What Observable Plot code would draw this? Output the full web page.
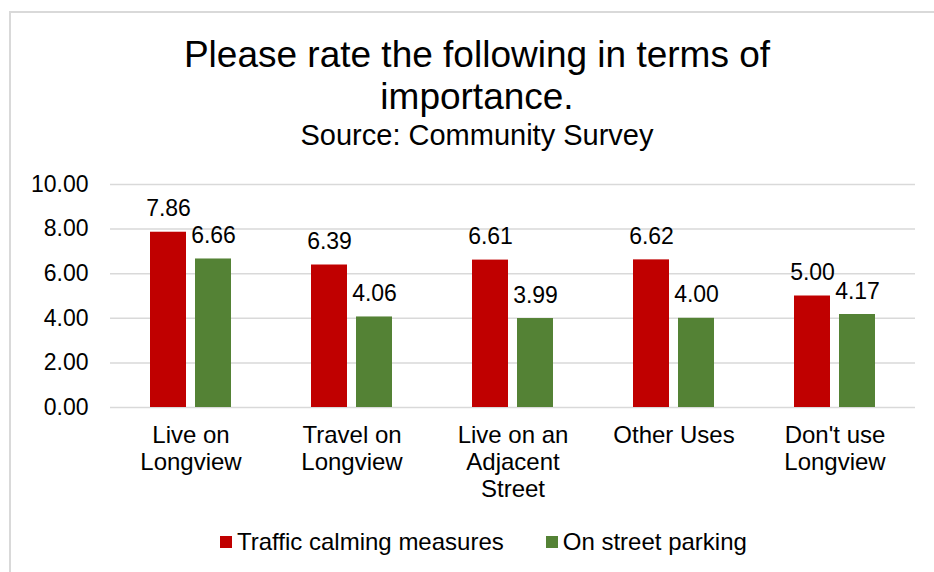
<!DOCTYPE html>
<html>
<head>
<meta charset="utf-8">
<script src="https://cdn.jsdelivr.net/npm/d3@7"></script>
<script src="https://cdn.jsdelivr.net/npm/@observablehq/plot@0.6"></script>
<style>
  body { margin: 0; background: #fff; font-family: "Liberation Sans", Arial, sans-serif; color: #000; }
  #wrap { position: relative; width: 934px; height: 572px; overflow: hidden; background: #fff; }
  #frame { position: absolute; left: 9px; top: 11px; width: 940px; height: 600px; border-top: 2px solid #d9d9d9; border-left: 2px solid #d9d9d9; box-sizing: border-box; }
  #title { position: absolute; left: 10px; width: 934px; top: 34px; text-align: center; font-size: 37px; line-height: 42px; }
  #subtitle { position: absolute; left: 10px; width: 934px; top: 119px; text-align: center; font-size: 29px; line-height: 32px; }
  #chart { position: absolute; left: 0; top: 160px; }
  #legend { position: absolute; top: 528px; left: 220px; font-size: 24px; line-height: 28px; display: flex; align-items: center; white-space: nowrap; }
  .sw { display: inline-block; width: 12px; height: 12px; margin-right: 5px; }
  .item { display: flex; align-items: center; }
</style>
</head>
<body>
<div id="wrap">
  <div id="frame"></div>
  <div id="title"></div>
  <div id="subtitle"></div>
  <div id="chart"></div>
  <div id="legend"></div>
</div>
<script>
const titleLines = ["Please rate the following in terms of", "importance."];
const subtitle = "Source: Community Survey";
const categories = ["Live on\nLongview", "Travel on\nLongview", "Live on an\nAdjacent\nStreet", "Other Uses", "Don't use\nLongview"];
const seriesNames = ["Traffic calming measures", "On street parking"];
const seriesColors = ["#C00000", "#548235"];
const trafficCalming = [7.86, 6.39, 6.61, 6.62, 5.00];
const onStreetParking = [6.66, 4.06, 3.99, 4.00, 4.17];
const yTicks = [0, 2, 4, 6, 8, 10];

document.getElementById("title").innerHTML = titleLines.join("<br>");
document.getElementById("subtitle").textContent = subtitle;

const rows = [];
categories.forEach((c, i) => {
  rows.push({cat: c, series: seriesNames[0], value: trafficCalming[i]});
  rows.push({cat: c, series: seriesNames[1], value: onStreetParking[i]});
});

const fmt = d3.format(".2f");

const chart = Plot.plot({
  width: 934,
  height: 360,
  marginTop: 24,
  marginBottom: 113,
  marginLeft: 108,
  marginRight: 18,
  style: { fontFamily: "'Liberation Sans', Arial, sans-serif", color: "#000", background: "transparent", overflow: "visible" },
  fx: { domain: categories, paddingInner: 0, paddingOuter: 0, label: null },
  x: { domain: seriesNames, paddingInner: 0.196, paddingOuter: 0.854, axis: null },
  y: { domain: [0, 10], label: null },
  color: { domain: seriesNames, range: seriesColors },
  marks: [
    Plot.gridY(yTicks, { stroke: "#d9d9d9", strokeOpacity: 1, strokeWidth: 1.5 }),
    Plot.barY(rows, { fx: "cat", x: "series", y: "value", fill: "series" }),
    Plot.text(rows, { fx: "cat", x: "series", y: "value", text: d => fmt(d.value), dy: -16, lineAnchor: "bottom", fontSize: 23, fill: "#000" }),
    Plot.axisY(yTicks, { tickFormat: fmt, tickSize: 0, tickPadding: 22, fontSize: 23, label: null }),
    Plot.axisFx({ anchor: "bottom", tickSize: 0, tickPadding: 16, fontSize: 24, lineHeight: 1.13, label: null })
  ]
});
document.getElementById("chart").appendChild(chart);

const legend = document.getElementById("legend");
seriesNames.forEach((s, i) => {
  const item = document.createElement("span");
  item.className = "item";
  item.style.marginRight = i === 0 ? "42px" : "0";
  const sw = document.createElement("span");
  sw.className = "sw";
  sw.style.background = seriesColors[i];
  item.appendChild(sw);
  item.appendChild(document.createTextNode(s));
  legend.appendChild(item);
});
</script>
</body>
</html>
